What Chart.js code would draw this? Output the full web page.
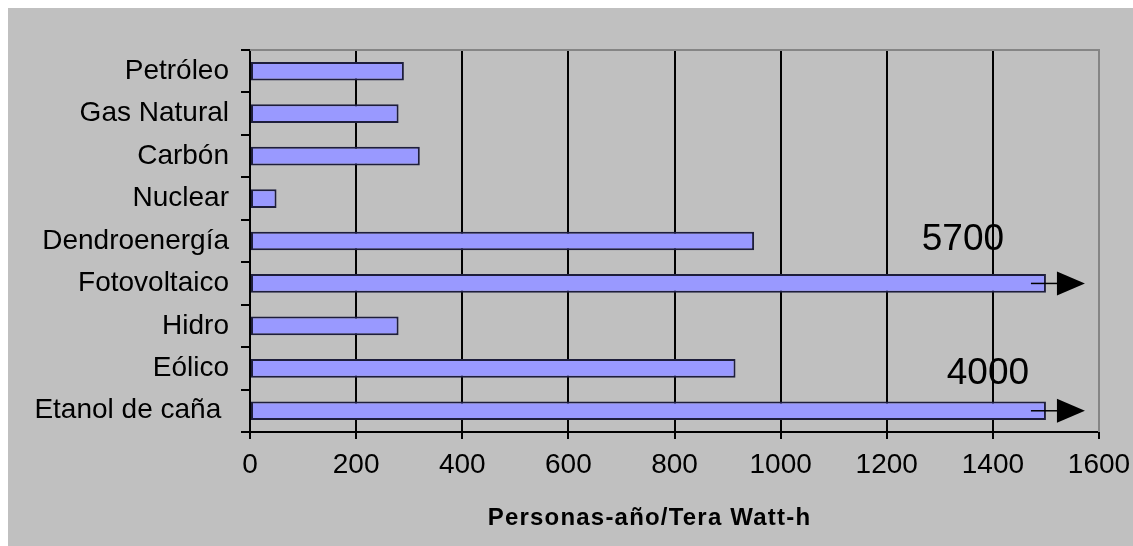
<!DOCTYPE html>
<html lang="es">
<head>
<meta charset="utf-8">
<title>Empleo por fuente de energía</title>
<script src="https://cdn.jsdelivr.net/npm/chart.js@4.4.1/dist/chart.umd.min.js"></script>
<style>
  html, body { margin: 0; padding: 0; background: #ffffff; }
  #wrap { position: relative; width: 1133px; height: 546px; }
</style>
</head>
<body>
<div id="wrap"><canvas id="chart"></canvas></div>
<script>
// Employment per unit of energy generated, by source
const categories = ['Petróleo', 'Gas Natural', 'Carbón', 'Nuclear', 'Dendroenergía',
                    'Fotovoltaico', 'Hidro', 'Eólico', 'Etanol de caña '];
const empleo = [290, 280, 320, 50, 950, 5700, 280, 915, 4000];
const xTicks = [0, 200, 400, 600, 800, 1000, 1200, 1400, 1600];
const axisMax = 1600;
const barCap = 1500;            // bars beyond this are cut and marked with an arrow
const axisTitle = 'Personas-año/Tera Watt-h';

// Bars longer than the axis are drawn up to the cap
const barValues = empleo.map(v => Math.min(v, barCap));

const FONT = "'Liberation Sans', Arial, sans-serif";

// Page background, grey panel and the plot frame lines
const framePlugin = {
  id: 'frame',
  beforeDraw(chart) {
    const { ctx, width, height } = chart;
    ctx.save();
    ctx.fillStyle = '#ffffff';
    ctx.fillRect(0, 0, width, height);
    ctx.fillStyle = '#c0c0c0';
    ctx.fillRect(8, 8, width - 8, height - 8);
    ctx.restore();
  },
  beforeDatasetsDraw(chart) {
    const { ctx, chartArea: a } = chart;
    ctx.save();
    ctx.strokeStyle = '#858585';
    ctx.lineWidth = 2;
    ctx.beginPath();
    ctx.moveTo(a.left, a.top);
    ctx.lineTo(a.right, a.top);
    ctx.lineTo(a.right, a.bottom);
    ctx.stroke();
    ctx.restore();
  }
};

// Arrow and true value for bars that run past the axis
const overflowPlugin = {
  id: 'overflow',
  afterDatasetsDraw(chart, args, opts) {
    const { ctx } = chart;
    const xs = chart.scales.x;
    const meta = chart.getDatasetMeta(0);
    const xc = xs.getPixelForValue(barCap);
    ctx.save();
    empleo.forEach((v, i) => {
      if (v <= barCap) return;
      const y = meta.data[i].y;
      ctx.strokeStyle = '#000';
      ctx.lineWidth = 1.5;
      ctx.beginPath();
      ctx.moveTo(xc - 15, y);
      ctx.lineTo(xc + 12, y);
      ctx.stroke();
      ctx.fillStyle = '#000';
      ctx.beginPath();
      ctx.moveTo(xc + 11, y - 12);
      ctx.lineTo(xc + 39, y);
      ctx.lineTo(xc + 11, y + 12);
      ctx.closePath();
      ctx.fill();
      const off = opts.labelOffsets[categories[i]] || [-70, -30];
      ctx.font = '37px ' + FONT;
      ctx.textAlign = 'center';
      ctx.textBaseline = 'alphabetic';
      ctx.fillStyle = '#000';
      ctx.fillText(String(v), xc + off[0], y + off[1]);
    });
    ctx.restore();
  }
};

// Axis title under the value axis
const axisTitlePlugin = {
  id: 'axisTitle',
  afterDraw(chart, args, opts) {
    const { ctx, chartArea: a } = chart;
    ctx.save();
    ctx.font = 'bold 24px ' + FONT;
    ctx.letterSpacing = '1.2px';
    ctx.fillStyle = '#000';
    ctx.textAlign = 'center';
    ctx.textBaseline = 'alphabetic';
    ctx.fillText(axisTitle, (a.left + a.right) / 2 + opts.dx, opts.baseline);
    ctx.restore();
  }
};

new Chart(document.getElementById('chart'), {
  type: 'bar',
  data: {
    labels: categories,
    datasets: [{
      data: barValues,
      backgroundColor: '#9999ff',
      borderColor: '#1e1e3c',
      borderWidth: 2,
      borderSkipped: false,
      barPercentage: 0.44,
      categoryPercentage: 1
    }]
  },
  options: {
    indexAxis: 'y',
    responsive: true,
    maintainAspectRatio: false,
    animation: false,
    devicePixelRatio: 1,
    layout: { padding: { top: 50, right: 34, left: 0, bottom: 0 } },
    plugins: {
      legend: { display: false },
      tooltip: { enabled: false },
      overflow: { labelOffsets: { 'Fotovoltaico': [-83, -33], 'Etanol de caña ': [-58, -27] } },
      axisTitle: { dx: -25, baseline: 525 }
    },
    scales: {
      x: {
        type: 'linear',
        min: 0,
        max: axisMax,
        afterBuildTicks(s) { s.ticks = xTicks.map(v => ({ value: v })); },
        afterFit(s) {
          s.height = 114;
          s.paddingLeft = 0;
          s.paddingRight = 0;
        },
        grid: {
          color: c => (c.tick && c.tick.value === axisMax) ? 'rgba(0,0,0,0)' : '#000',
          tickColor: '#000',
          lineWidth: 2,
          tickLength: 7
        },
        border: { display: true, color: '#000', width: 2 },
        ticks: {
          callback: v => String(v),
          font: { family: FONT, size: 28 },
          color: '#000',
          padding: 9,
          maxRotation: 0,
          autoSkip: false
        }
      },
      y: {
        afterFit(s) { s.width = 250; },
        grid: {
          offset: true,
          drawOnChartArea: false,
          drawTicks: true,
          tickLength: 9,
          color: '#000',
          lineWidth: 2
        },
        border: { display: true, color: '#000', width: 2 },
        ticks: {
          font: { family: FONT, size: 28 },
          color: '#000',
          padding: 12,
          autoSkip: false
        }
      }
    }
  },
  plugins: [framePlugin, overflowPlugin, axisTitlePlugin]
});
</script>
</body>
</html>
